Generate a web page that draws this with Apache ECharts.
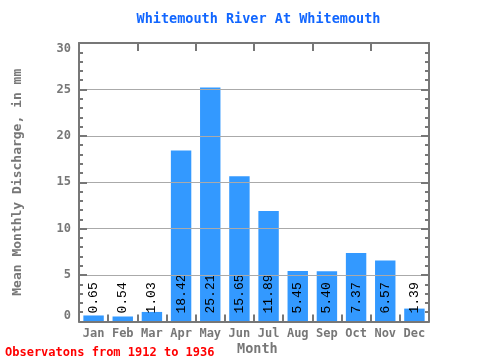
<!DOCTYPE html>
<html>
<head>
<meta charset="utf-8">
<script src="https://cdn.jsdelivr.net/npm/echarts@6/dist/echarts.min.js"></script>
<style>html,body{margin:0;padding:0;background:#fff}#c{width:480px;height:360px}</style>
</head>
<body>
<div id="c"></div>
<script>
const months = ['Jan','Feb','Mar','Apr','May','Jun','Jul','Aug','Sep','Oct','Nov','Dec'];
const discharge = [0.65, 0.54, 1.03, 18.42, 25.21, 15.65, 11.89, 5.45, 5.40, 7.37, 6.57, 1.39];
const yTicks = [0, 5, 10, 15, 20, 25, 30];

const titleText = 'Whitemouth River At Whitemouth';
const yName = 'Mean Monthly Discharge, in mm';
const xName = 'Month';
const noteText = 'Observatons from 1912 to 1936';

const mono = 'DejaVu Sans Mono';
const axisGray = '#777777';

const chart = echarts.init(document.getElementById('c'), null, {renderer: 'canvas'});

const yCommon = {
  type: 'value',
  min: yTicks[0],
  max: yTicks[yTicks.length - 1],
  interval: yTicks[1] - yTicks[0],
  z: 10,
  axisLine: {show: true, lineStyle: {color: axisGray, width: 2}},
  axisTick: {show: true, inside: true, length: 8, lineStyle: {color: axisGray, width: 2}},
  minorTick: {show: true, splitNumber: 5, length: 4, lineStyle: {color: axisGray, width: 2}}
};

chart.setOption({
  animation: false,
  title: {
    text: titleText,
    left: 253.5,
    textAlign: 'center',
    top: 7,
    textStyle: {color: '#1166ff', fontFamily: mono, fontWeight: 'bold', fontSize: 13.5}
  },
  grid: {left: 79, right: 51, top: 43, bottom: 38.5, containLabel: false},
  xAxis: [
    {
      type: 'category',
      data: months,
      position: 'bottom',
      z: 10,
      axisLine: {show: true, onZero: false, lineStyle: {color: axisGray, width: 2}},
      axisTick: {show: true, inside: true, length: 7, lineStyle: {color: axisGray, width: 2}},
      axisLabel: {color: axisGray, fontFamily: mono, fontWeight: 'bold', fontSize: 12, margin: 6},
      splitLine: {show: false}
    },
    {
      type: 'category',
      data: months,
      position: 'top',
      z: 10,
      axisLine: {show: true, onZero: false, lineStyle: {color: axisGray, width: 2}},
      axisTick: {show: true, inside: true, length: 8, lineStyle: {color: axisGray, width: 2}},
      axisLabel: {show: false},
      splitLine: {show: false}
    }
  ],
  yAxis: [
    Object.assign({}, yCommon, {
      position: 'left',
      splitLine: {show: true, showMinLine: false, showMaxLine: false, lineStyle: {color: '#aaaaaa', width: 1}},
      axisLabel: {
        color: axisGray, fontFamily: mono, fontWeight: 'bold', fontSize: 12, margin: 8,
        verticalAlignMinLabel: 'bottom', verticalAlignMaxLabel: 'top'
      },
      name: yName,
      nameLocation: 'middle',
      nameGap: 55,
      nameTextStyle: {color: axisGray, fontFamily: mono, fontWeight: 'bold', fontSize: 13}
    }),
    Object.assign({}, yCommon, {
      position: 'right',
      splitLine: {show: false},
      axisLabel: {show: false}
    })
  ],
  graphic: [
    {
      type: 'text',
      left: 237, top: 342,
      style: {text: xName, fill: axisGray, font: 'bold 13.5px "DejaVu Sans Mono"'}
    },
    {
      type: 'text',
      left: 5, top: 347,
      style: {text: noteText, fill: '#ff0000', font: 'bold 12px "DejaVu Sans Mono"'}
    }
  ],
  series: [{
    type: 'bar',
    xAxisIndex: 0,
    yAxisIndex: 0,
    data: discharge,
    barWidth: '70%',
    itemStyle: {color: '#3399ff'},
    label: {
      show: true,
      position: 'insideBottom',
      distance: 8,
      rotate: 90,
      align: 'left',
      verticalAlign: 'middle',
      color: '#000',
      fontFamily: 'Liberation Mono',
      fontSize: 13,
      formatter: p => Number(p.value).toFixed(2)
    }
  }]
});
</script>
</body>
</html>
